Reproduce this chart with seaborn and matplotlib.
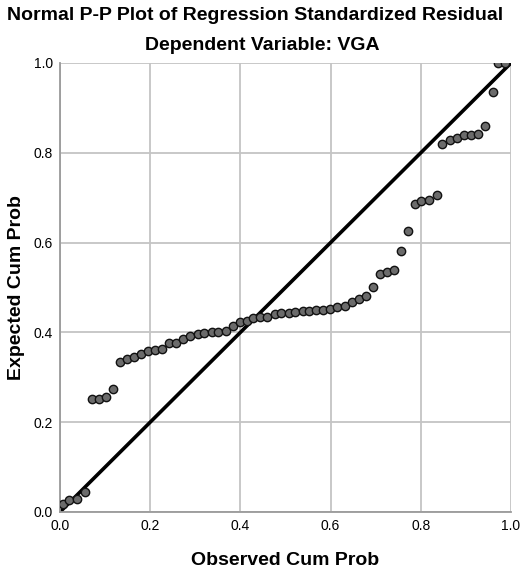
import pandas as pd
import seaborn as sns
import matplotlib.pyplot as plt

# Observed vs expected cumulative probabilities
observed = [0.006, 0.021, 0.038, 0.056, 0.070, 0.087, 0.103, 0.118, 0.133, 0.148,
            0.164, 0.180, 0.196, 0.211, 0.227, 0.242, 0.258, 0.273, 0.289, 0.305,
            0.320, 0.336, 0.351, 0.367, 0.383, 0.398, 0.415, 0.429, 0.444, 0.460,
            0.476, 0.490, 0.507, 0.522, 0.538, 0.553, 0.568, 0.584, 0.599, 0.615,
            0.631, 0.647, 0.662, 0.678, 0.694, 0.709, 0.725, 0.740, 0.756, 0.772,
            0.787, 0.801, 0.818, 0.835, 0.848, 0.864, 0.880, 0.896, 0.911, 0.927,
            0.943, 0.959, 0.972, 0.987]
expected = [0.018, 0.026, 0.029, 0.045, 0.251, 0.251, 0.255, 0.273, 0.334, 0.340,
            0.346, 0.352, 0.359, 0.361, 0.362, 0.376, 0.376, 0.385, 0.393, 0.396,
            0.398, 0.400, 0.400, 0.403, 0.414, 0.424, 0.426, 0.431, 0.434, 0.435,
            0.441, 0.443, 0.444, 0.446, 0.448, 0.448, 0.450, 0.450, 0.451, 0.456,
            0.459, 0.467, 0.474, 0.481, 0.500, 0.530, 0.535, 0.539, 0.582, 0.625,
            0.685, 0.693, 0.695, 0.706, 0.819, 0.829, 0.833, 0.840, 0.840, 0.842,
            0.860, 0.936, 1.000, 1.000]

ref_x = [0.0, 1.0]
ref_y = [0.0, 1.0]
ticks = [0.0, 0.2, 0.4, 0.6, 0.8, 1.0]
tick_labels = ["0.0", "0.2", "0.4", "0.6", "0.8", "1.0"]

df = pd.DataFrame({"observed": observed, "expected": expected})
ref = pd.DataFrame({"x": ref_x, "y": ref_y})

sns.set_style("white")
plt.rcParams["font.family"] = ["Liberation Sans", "DejaVu Sans"]
plt.rcParams["text.color"] = "black"
plt.rcParams["axes.labelcolor"] = "black"
plt.rcParams["xtick.color"] = "black"
plt.rcParams["ytick.color"] = "black"

fig = plt.figure(figsize=(5.2, 5.7), dpi=100)
ax = fig.add_axes([0.1154, 0.1018, 0.8673, 0.7877])

sns.lineplot(data=ref, x="x", y="y", color="black", linewidth=2.6, ax=ax, zorder=2)
sns.scatterplot(data=df, x="observed", y="expected", s=36, color="#6b6b6b",
                edgecolor="#111111", linewidth=1.0, ax=ax, zorder=3)

ax.set_xlim(0, 1)
ax.set_ylim(0, 1)
ax.set_xticks(ticks)
ax.set_xticklabels(tick_labels, fontsize=10)
ax.set_yticks(ticks)
ax.set_yticklabels(tick_labels, fontsize=10)
ax.tick_params(axis="x", length=0, pad=5)
ax.tick_params(axis="y", length=0, pad=5)
ax.grid(True, color="#c4c4c4", linewidth=1.3)
ax.set_axisbelow(True)
for side in ["top", "right"]:
    ax.spines[side].set_visible(False)
for side in ["left", "bottom"]:
    ax.spines[side].set_color("#9a9a9a")
    ax.spines[side].set_linewidth(1.3)

ax.set_xlabel("Observed Cum Prob", fontsize=14, fontweight="bold", labelpad=14)
ax.set_ylabel("Expected Cum Prob", fontsize=14, fontweight="bold", labelpad=6)

fig.text(0.49, 0.973, "Normal P-P Plot of Regression Standardized Residual",
         ha="center", va="center", fontsize=14, fontweight="bold")
fig.text(0.505, 0.921, "Dependent Variable: VGA",
         ha="center", va="center", fontsize=14, fontweight="bold")

fig.savefig("out.png", dpi=100)
